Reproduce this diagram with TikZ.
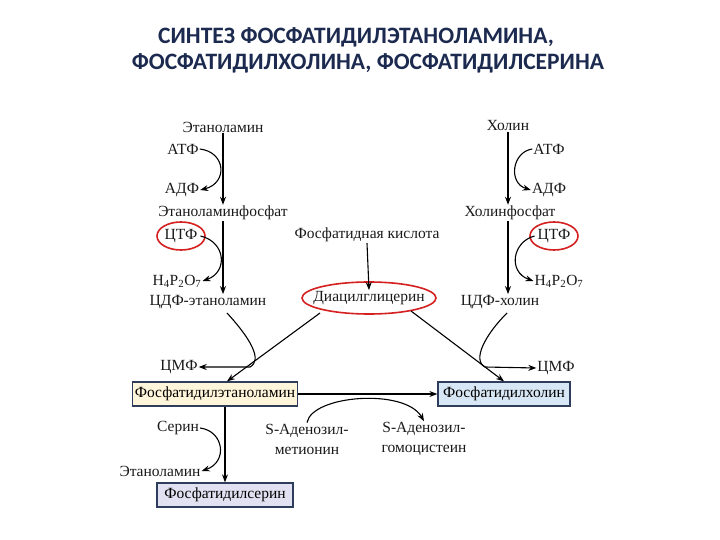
\documentclass[tikz,border=0pt]{standalone}
\usepackage{fontspec}
\setmainfont{Liberation Serif}
\newfontfamily\serf{Liberation Serif}
\newfontfamily\titlefont{Carlito}
\usetikzlibrary{arrows.meta,calc}
\definecolor{titlec}{HTML}{1C2A50}
\definecolor{boxline}{HTML}{2E3D5C}
\definecolor{pefill}{HTML}{FFF5DA}
\definecolor{pcfill}{HTML}{D8E7F5}
\definecolor{psfill}{HTML}{E1E1F1}
\definecolor{ringred}{HTML}{D42020}
\tikzset{
  lbl/.style={inner sep=1pt, font=\serf\fontsize{15.5}{18}\selectfont, text=black!90},
  arr/.style={line width=1.1pt, -{Stealth[length=8pt,width=6pt]}},
  cbox/.style={draw=boxline, line width=1.3pt, minimum height=24pt, inner sep=2pt, font=\serf\fontsize{15.5}{18}\selectfont},
  ring/.style={draw=ringred, line width=1.6pt},
  ttl/.style={font=\titlefont\bfseries\fontsize{23.5}{28}\selectfont, text=titlec}
}
\begin{document}
\begin{tikzpicture}[x=1pt,y=-1pt]
\useasboundingbox (0,0) rectangle (720,540);
% title
\node[ttl] (t1) at (356,37) {СИНТЕЗ ФОСФАТИДИЛЭТАНОЛАМИНА,};
\node[ttl] (t2) at (368,63) {ФОСФАТИДИЛХОЛИНА, ФОСФАТИДИЛСЕРИНА};
% left column
\node[lbl] (etn) at (223,127) {Этаноламин};
\node[lbl] (atf1) at (183,149) {АТФ};
\node[lbl] (adf1) at (182,190) {АДФ};
\node[lbl] (etnp) at (223,213) {Этаноламинфосфат};
\node[lbl] (ctf1) at (181,236) {ЦТФ};
\node[lbl] (pp1) at (177,281) {H\textsubscript{4}P\textsubscript{2}O\textsubscript{7}};
\node[lbl] (cdpe) at (208,302) {ЦДФ-этаноламин};
% right column
\node[lbl] (chol) at (508,126) {Холин};
\node[lbl] (atf2) at (549,149) {АТФ};
\node[lbl] (adf2) at (549,190) {АДФ};
\node[lbl] (cholp) at (510,213) {Холинфосфат};
\node[lbl] (ctf2) at (554,236) {ЦТФ};
\node[lbl] (pp2) at (559,281) {H\textsubscript{4}P\textsubscript{2}O\textsubscript{7}};
\node[lbl] (cdpc) at (500,302) {ЦДФ-холин};
% middle
\node[lbl] (pa) at (367,235) {Фосфатидная кислота};
\node[lbl] (dag) at (369,298) {Диацилглицерин};
% lower
\node[lbl] (cmpl) at (179,367) {ЦМФ};
\node[lbl] (cmpr) at (556,368) {ЦМФ};
\node[cbox, fill=pefill, minimum width=165pt] (pe) at (215,394) {Фосфатидилэтаноламин};
\node[cbox, fill=pcfill, minimum width=132pt] (pc) at (504,394) {Фосфатидилхолин};
\node[cbox, fill=psfill, minimum width=136pt] (ps) at (225,495) {Фосфатидилсерин};
\node[lbl] (ser) at (178,428) {Серин};
\node[lbl] (eta2) at (160,471) {Этаноламин};
\node[lbl, align=center, font=\serf\fontsize{15.5}{20}\selectfont] (sam) at (307,439) {S-Аденозил-\\метионин};
\node[lbl, align=center, font=\serf\fontsize{15.5}{20}\selectfont] (sah) at (424,439) {S-Аденозил-\\гомоцистеин};
% red rings
\draw[ring] (ctf1) ellipse [x radius=24, y radius=14];
\draw[ring] (ctf2) ellipse [x radius=24, y radius=14];
\draw[ring] (dag) ellipse [x radius=67, y radius=16];
% left column arrows
\draw[arr] (etn.south) -- (etnp.north);
\draw[arr] (atf1.east) .. controls (226,152) and (228,183) .. (adf1.east);
\draw[arr] (etnp.south) -- (etnp.south |- cdpe.north);
\draw[arr] ([xshift=2pt]ctf1.east) .. controls (226,242) and (228,272) .. (pp1.east);
% right column arrows
\draw[arr] (chol.south) -- (chol.south |- cholp.north);
\draw[arr] (atf2.west) .. controls (512,152) and (508,183) .. (adf2.west);
\draw[arr] (cholp.south -| chol.south) -- (chol.south |- cdpc.north);
\draw[arr] ([xshift=-2pt]ctf2.west) .. controls (512,242) and (508,272) .. (pp2.west);
% middle
\draw[arr] (pa.south) -- (dag.north);
\coordinate (dagl) at (320,313);
\coordinate (dagr) at (411,311);
\coordinate (cdpeb) at (227,313);
\coordinate (cdpcb) at (507,313);
\draw[arr] (dagl) -- ([xshift=12pt]pe.north);
\draw[arr] (dagr) -- (pc.north);
\draw[arr] (cdpeb) .. controls (250,338) and (263,360) .. (250,367) -- (cmpl.east);
\draw[arr] (cdpcb) .. controls (485,335) and (472,360) .. (485,367) -- (cmpr.west);
% lower arrows
\draw[arr] (pe.east) -- (pc.west);
\draw[arr] (sam.north) .. controls (312,395) and (405,388) .. (sah.north);
\draw[arr] (pe.south -| ps.north) -- (ps.north);
\draw[arr] (ser.east) .. controls (224,431) and (228,462) .. (eta2.east);
\end{tikzpicture}
\end{document}
